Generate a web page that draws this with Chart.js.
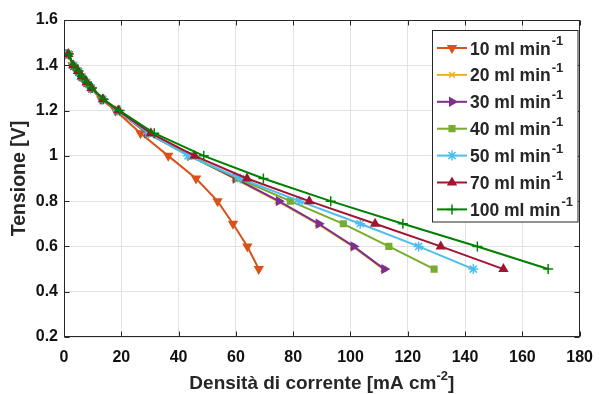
<!DOCTYPE html>
<html><head><meta charset="utf-8">
<script src="https://cdn.jsdelivr.net/npm/chart.js@4/dist/chart.umd.min.js"></script>
<style>html,body{margin:0;padding:0;background:#fff}#wrap{width:604px;height:394px}</style>
</head><body><div id="wrap"><canvas id="c" width="604" height="394"></canvas></div>
<script>
// ---- data ----
const voltages = [1.45,1.40,1.375,1.35,1.325,1.30,1.25,1.20,1.10,1.00,0.90,0.80,0.70,0.60,0.50];
const flow10  = [1.5,3.0,4.7,5.9,7.5,9.2,13.0,18.0,26.7,36.4,46.1,53.6,59.0,64.0,68.0];
const flow20  = [1.5,3.2,4.9,6.1,7.8,9.5,13.5,18.6,29.0,44.0,59.5,74.5,88.5,100.8,111.5];
const flow30  = [1.5,3.2,4.9,6.1,7.8,9.5,13.5,18.7,29.0,44.0,59.9,75.0,88.9,101.1,111.8];
const flow40  = [1.5,3.2,4.9,6.1,7.8,9.5,13.5,18.7,29.5,44.0,60.8,79.0,97.5,113.4,129.2];
const flow50  = [1.5,3.2,4.9,6.1,7.8,9.5,13.5,18.7,29.5,43.3,61.6,82.2,103.4,123.8,142.9];
const flow70  = [1.5,3.2,4.9,6.2,7.9,9.6,13.6,19.0,30.3,45.6,63.9,85.6,108.6,131.5,153.4];
const flow100 = [1.6,3.3,5.0,6.3,8.0,9.8,13.8,19.4,31.5,48.8,69.6,93.1,118.3,144.3,169.0];
const seriesLabels = ['10 ml min','20 ml min','30 ml min','40 ml min','50 ml min','70 ml min','100 ml min'];
const seriesSup = '-1';
const xTicks = [0,20,40,60,80,100,120,140,160,180];
const yTicks = [0.2,0.4,0.6,0.8,1.0,1.2,1.4,1.6];
const xTitle = 'Densità di corrente [mA cm';
const xTitleSup = '-2';
const xTitleEnd = ']';
const yTitle = 'Tensione [V]';

// ---- styles ----
const seriesValues = [flow10,flow20,flow30,flow40,flow50,flow70,flow100];
const colors = ['#D95319','#EDB120','#7E2F8E','#77AC30','#4DBEEE','#A2142F','#008000'];
const markers = [
  {style:'triangle',rot:180,r:4.5,fill:true},
  {style:'crossRot',rot:0,r:4,fill:false},
  {style:'triangle',rot:90,r:4.5,fill:true},
  {style:'rect',rot:0,r:4,fill:true},
  {style:'star',rot:0,r:5,fill:false},
  {style:'triangle',rot:0,r:4.5,fill:true},
  {style:'cross',rot:0,r:5,fill:false}
];
const FONT = '"Liberation Sans", Arial, Helvetica, sans-serif';
const TXT = '#262626';
Chart.defaults.font.family = FONT;

const N = seriesValues.length;
const datasets = seriesValues.map((vals,i)=>({
  label: seriesLabels[i],
  data: vals.map((x,k)=>({x:x,y:voltages[k]})),
  showLine:true,
  borderColor: colors[i],
  backgroundColor: markers[i].fill ? colors[i] : 'rgba(0,0,0,0)',
  borderWidth: 2,
  pointStyle: markers[i].style,
  pointRotation: markers[i].rot,
  pointRadius: markers[i].r,
  pointBorderWidth: 1.5,
  pointBorderColor: colors[i],
  pointBackgroundColor: markers[i].fill ? colors[i] : 'rgba(0,0,0,0)',
  order: N-1-i,
  tension: 0
}));

function drawMarker(ctx, m, color, x, y){
  ctx.save();
  ctx.strokeStyle = color; ctx.fillStyle = m.fill ? color : 'rgba(0,0,0,0)';
  ctx.lineWidth = 1.5;
  Chart.helpers.drawPoint(ctx, {pointStyle:m.style, rotation:m.rot, radius:m.r, borderWidth:1.5}, x, y);
  ctx.restore();
}

const framePlugin = {
  id:'frame',
  afterDatasetsDraw(chart){
    const ctx = chart.ctx, a = chart.chartArea;
    const xs = chart.scales.x, ys = chart.scales.y;
    ctx.save();
    ctx.strokeStyle = TXT; ctx.lineWidth = 1;
    const L = Math.round(a.left)+0.5, R = Math.round(a.right)-0.5, T = Math.round(a.top)+0.5, B = Math.round(a.bottom)-0.5;
    ctx.strokeRect(L,T,R-L,B-T);
    ctx.beginPath();
    xTicks.forEach(v=>{const p=Math.round(xs.getPixelForValue(v))+0.5; ctx.moveTo(p,B); ctx.lineTo(p,B-5); ctx.moveTo(p,T); ctx.lineTo(p,T+5);});
    yTicks.forEach(v=>{const p=Math.round(ys.getPixelForValue(v))+0.5; ctx.moveTo(L,p); ctx.lineTo(L+5,p); ctx.moveTo(R,p); ctx.lineTo(R-5,p);});
    ctx.stroke();
    ctx.restore();
  },
  afterDraw(chart){
    const ctx = chart.ctx, a = chart.chartArea;
    ctx.save();
    ctx.fillStyle = TXT;
    // x title with superscript
    const fMain = 'bold 19px '+FONT, fSup = 'bold 13px '+FONT;
    ctx.font = fMain; const w1 = ctx.measureText(xTitle).width; const w3 = ctx.measureText(xTitleEnd).width;
    ctx.font = fSup; const w2 = ctx.measureText(xTitleSup).width;
    let x0 = (a.left+a.right)/2 - (w1+w2+w3)/2; const by = 389;
    ctx.textBaseline = 'alphabetic'; ctx.textAlign = 'left';
    ctx.font = fMain; ctx.fillText(xTitle, x0, by);
    ctx.font = fSup; ctx.fillText(xTitleSup, x0+w1, by-9);
    ctx.font = fMain; ctx.fillText(xTitleEnd, x0+w1+w2, by);
    // y title
    ctx.save();
    ctx.translate(20, (a.top+a.bottom)/2);
    ctx.rotate(-Math.PI/2);
    ctx.textAlign='center'; ctx.textBaseline='middle';
    ctx.font = 'bold 19.5px '+FONT; ctx.fillText(yTitle, 0, 0);
    ctx.restore();
    // legend
    const bx = 432.5, byTop = 30.5, bw = 145.5, bh = 191.5;
    ctx.fillStyle = '#fff'; ctx.fillRect(bx,byTop,bw,bh);
    ctx.strokeStyle = TXT; ctx.lineWidth = 1; ctx.strokeRect(bx,byTop,bw,bh);
    const rowH = 26.9, firstY = 48;
    for(let i=0;i<N;i++){
      const yc = firstY + i*rowH;
      ctx.strokeStyle = colors[i]; ctx.lineWidth = 2;
      ctx.beginPath(); ctx.moveTo(437,yc); ctx.lineTo(467,yc); ctx.stroke();
      drawMarker(ctx, markers[i], colors[i], 452, yc);
      ctx.fillStyle = TXT; ctx.textAlign='left'; ctx.textBaseline='alphabetic';
      ctx.font = 'bold 17.5px '+FONT;
      ctx.fillText(seriesLabels[i], 470, yc+6.5);
      const tw = ctx.measureText(seriesLabels[i]).width;
      ctx.font = 'bold 13px '+FONT;
      ctx.fillText(seriesSup, 470+tw+1, yc-3);
    }
    ctx.restore();
  }
};

new Chart(document.getElementById('c'), {
  type:'scatter',
  data:{datasets},
  options:{
    responsive:false, animation:false, devicePixelRatio:1,
    layout:{padding:{top:20,right:15,left:0,bottom:0}},
    plugins:{legend:{display:false}, tooltip:{enabled:false}},
    scales:{
      x:{type:'linear', min:0, max:180,
         afterBuildTicks(s){ s.ticks = xTicks.map(v=>({value:v})); },
         afterFit(s){ s.height = 57; },
         grid:{color:'#e2e2e2', lineWidth:1, drawTicks:false},
         border:{display:false},
         ticks:{color:'#111', font:{size:16, weight:700}, padding:11, maxRotation:0}
      },
      y:{type:'linear', min:0.2, max:1.6,
         afterBuildTicks(s){ s.ticks = yTicks.map(v=>({value:v})); },
         afterFit(s){ s.width = 64; },
         grid:{color:'#e2e2e2', lineWidth:1, drawTicks:false},
         border:{display:false},
         ticks:{color:'#111', font:{size:16, weight:700}, padding:6,
           callback:(v)=>String(Math.round(v*10)/10)}
      }
    }
  },
  plugins:[framePlugin]
});
</script></body></html>
